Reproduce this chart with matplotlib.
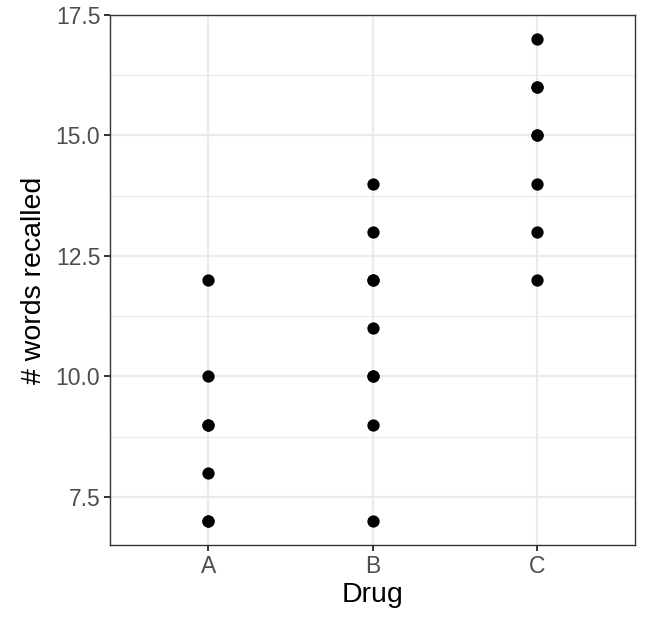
import matplotlib
matplotlib.use("Agg")
import matplotlib.pyplot as plt
import numpy as np

# Data
drug_levels = ["A", "B", "C"]
drug_a = [12, 10, 9, 9, 8, 7, 7]
drug_b = [14, 13, 12, 12, 11, 10, 10, 9, 7]
drug_c = [17, 16, 16, 15, 15, 14, 13, 12]

plt.rcParams["font.family"] = ["Liberation Sans", "DejaVu Sans"]

fig = plt.figure(figsize=(6.52, 6.33), dpi=100)
ax = fig.add_axes([110 / 652, 1 - 545 / 633, 525 / 652, 530 / 633])

for i, vals in enumerate([drug_a, drug_b, drug_c]):
    ax.scatter(np.full(len(vals), i + 1), vals, s=78, color="black", zorder=3, linewidths=0)

ax.set_xlim(0.4, 3.6)
ax.set_ylim(6.5, 17.5)
ax.set_xticks([1, 2, 3])
ax.set_xticklabels(drug_levels)
ax.set_yticks([7.5, 10.0, 12.5, 15.0, 17.5])
ax.set_yticklabels(["7.5", "10.0", "12.5", "15.0", "17.5"])
ax.set_yticks([8.75, 11.25, 13.75, 16.25], minor=True)

ax.grid(which="major", color="#EBEBEB", linewidth=1.6, zorder=0)
ax.grid(which="minor", axis="y", color="#EBEBEB", linewidth=0.8, zorder=0)
ax.set_axisbelow(True)

for sp in ax.spines.values():
    sp.set_color("#333333")
    sp.set_linewidth(1.0)

ax.tick_params(which="major", length=4.5, width=1.4, color="#333333",
               labelcolor="#4D4D4D", labelsize=16.5, pad=2.5)
ax.tick_params(which="minor", length=0)

ax.set_xlabel("Drug", fontsize=20.5, color="black", labelpad=3)
ax.set_ylabel("# words recalled", fontsize=20.5, color="black", labelpad=6)

fig.savefig("out.png", dpi=100)
